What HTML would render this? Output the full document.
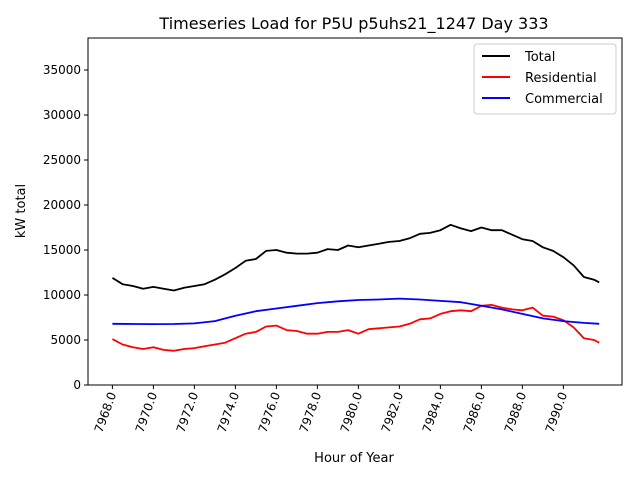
<!DOCTYPE html>
<html><head><meta charset="utf-8"><style>
body{margin:0;background:#fff;font-family:"Liberation Sans","DejaVu Sans",sans-serif}
svg text{font-family:"DejaVu Sans","Liberation Sans",sans-serif;fill:#000}
</style></head><body>
<svg id="chart" width="640" height="480" viewBox="0 0 640 480"></svg>
<script>
const halfHours=[7968,7968.5,7969,7969.5,7970,7970.5,7971,7971.5,7972,7972.5,7973,7973.5,7974,7974.5,7975,7975.5,7976,7976.5,7977,7977.5,7978,7978.5,7979,7979.5,7980,7980.5,7981,7981.5,7982,7982.5,7983,7983.5,7984,7984.5,7985,7985.5,7986,7986.5,7987,7987.5,7988,7988.5,7989,7989.5,7990,7990.5,7991,7991.5,7991.75];
const totalLoad=[11900,11200,11000,10700,10900,10700,10500,10800,11000,11200,11700,12300,13000,13800,14000,14900,15000,14700,14600,14600,14700,15100,15000,15500,15300,15500,15700,15900,16000,16300,16800,16900,17200,17800,17400,17100,17500,17200,17200,16700,16200,16000,15300,14900,14200,13300,12000,11700,11400];
const residentialLoad=[5100,4500,4200,4000,4200,3900,3800,4000,4100,4300,4500,4700,5200,5700,5900,6500,6600,6100,6000,5700,5700,5900,5900,6100,5700,6200,6300,6400,6500,6800,7300,7400,7900,8200,8300,8200,8800,8900,8600,8400,8300,8600,7700,7600,7200,6400,5200,5000,4700];
const hoursC=[7968,7969,7970,7971,7972,7973,7974,7975,7976,7977,7978,7979,7980,7981,7982,7983,7984,7985,7986,7987,7988,7989,7990,7991,7991.75];
const commercialLoad=[6800,6780,6770,6780,6850,7100,7700,8200,8500,8800,9100,9300,9450,9500,9600,9500,9350,9200,8800,8400,7900,7400,7100,6900,6800];
const xTicks=[7968,7970,7972,7974,7976,7978,7980,7982,7984,7986,7988,7990];
const yTicks=[0,5000,10000,15000,20000,25000,30000,35000];

const L=88,R=622,T=38,B=385;
const xMin=7966.81,xMax=7992.86,yMax=38556;
const sx=v=>L+(v-xMin)/(xMax-xMin)*(R-L);
const sy=v=>B-v/yMax*(B-T);
const NS="http://www.w3.org/2000/svg";
const svg=document.getElementById('chart');
function mk(tag,attrs,parent){const e=document.createElementNS(NS,tag);for(const k in attrs)e.setAttribute(k,attrs[k]);(parent||svg).appendChild(e);return e;}

function series(xs,ys,color,name){
  const p=mk('polyline',{points:xs.map((x,i)=>sx(x).toFixed(1)+','+sy(ys[i]).toFixed(1)).join(' '),fill:'none',stroke:color,'stroke-width':1.8,'stroke-linejoin':'round'});
  
  
}
series(halfHours,totalLoad,'#000','total-line');
series(halfHours,residentialLoad,'#ff0000','residential-line');
series(hoursC,commercialLoad,'#0000ff','commercial-line');

const frame=mk('rect',{x:L,y:T,width:R-L,height:B-T,fill:'none',stroke:'#000','stroke-width':1});



yTicks.forEach(v=>{
  const y=sy(v);
  mk('line',{x1:L-4,x2:L,y1:y,y2:y,stroke:'#000'});
  const t=mk('text',{x:L-7,y:y+4,'text-anchor':'end','font-size':12});
  t.textContent=v;
  
  
});
xTicks.forEach(v=>{
  const x=sx(v);
  mk('line',{x1:x,x2:x,y1:B,y2:B+4,stroke:'#000'});
  const t=mk('text',{x:0,y:0,'text-anchor':'end','font-size':12,transform:`translate(${x+4},${B+9}) rotate(-70)`});
  t.textContent=v.toFixed(1);
  
  
});

const title=mk('text',{x:354,y:29,'text-anchor':'middle','font-size':16});
title.textContent='Timeseries Load for P5U p5uhs21_1247  Day 333';


const xl=mk('text',{x:354,y:462,'text-anchor':'middle','font-size':13});
xl.textContent='Hour of Year';


const yl=mk('text',{x:0,y:0,'text-anchor':'middle','font-size':13,transform:'translate(25,211) rotate(-90)'});
yl.textContent='kW total';



const lg=mk('g',{});


mk('rect',{x:474,y:44,width:142,height:70,rx:3,fill:'#fff',stroke:'#ccc'},lg);
[['Total','#000'],['Residential','#ff0000'],['Commercial','#0000ff']].forEach((d,i)=>{
  const y=56+i*21;
  const g=mk('g',{},lg);
  
  
  mk('line',{x1:482,x2:510,y1:y,y2:y,stroke:d[1],'stroke-width':2},g);
  const t=mk('text',{x:525,y:y+5,'font-size':13},g);
  t.textContent=d[0];
});
</script>
</body></html>
